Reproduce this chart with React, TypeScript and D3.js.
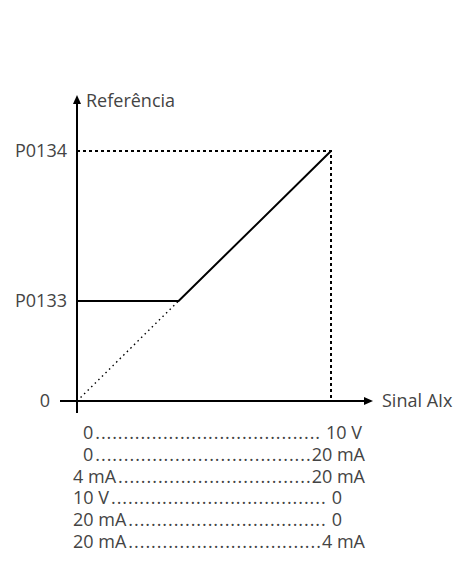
import React from "react";
import * as d3 from "d3";

const W = 458;
const H = 570;

// Data (percent of full scale)
const signalDomain = [0, 100];
const refDomain = [0, 100];
const yTickValues = [0, 40, 100];
const yTickLabels = ["0", "P0133", "P0134"];
const curveX = [0, 40, 100];
const curveY = [40, 40, 100];
const dottedX = [0, 40];
const dottedY = [0, 40];
const guideX = [0, 100, 100];
const guideY = [100, 100, 0];
const rangeLeft = ["0", "0", "4 mA", "10 V", "20 mA", "20 mA"];
const rangeRight = ["10 V", "20 mA", "20 mA", "0", "0", "4 mA"];
const yAxisTitle = "Referência";
const xAxisTitle = "Sinal AIx";

const FONT = "'Open Sans', sans-serif";
const FS = 18;

function measure(s: string): number {
  try {
    const c = document.createElement("canvas").getContext("2d");
    if (c) {
      c.font = `${FS}px ${FONT}`;
      return c.measureText(s).width;
    }
  } catch (e) {}
  return s.length * FS * 0.55;
}

export default function App() {
  const x = d3.scaleLinear().domain(signalDomain).range([77, 331]);
  const y = d3.scaleLinear().domain(refDomain).range([401, 151]);
  const line = d3
    .line<[number, number]>()
    .x((d) => x(d[0]))
    .y((d) => y(d[1]));
  const curve = curveX.map((v, i) => [v, curveY[i]] as [number, number]);
  const dotted = dottedX.map((v, i) => [v, dottedY[i]] as [number, number]);
  const guide = guideX.map((v, i) => [v, guideY[i]] as [number, number]);
  const txt = "#444";

  const x0 = x(0);
  const y0 = y(0);
  const rowY0 = 439;
  const rowStep = 21.8;
  const leftStarts = [83, 83, 73, 73, 73, 73];
  const rightEnds = [362, 365, 365, 342, 342, 365];
  const rightGaps = [6, 1, 1, 6, 6, 1];
  const dotStep = 5.6;

  return (
    <svg
      width={W}
      height={H}
      style={{ position: "absolute", left: 0, top: 0, background: "#fff" }}
      fontFamily={FONT}
    >
      {/* guides */}
      <path d={line(guide) || ""} fill="none" stroke="#000" strokeWidth={2} strokeDasharray="3,3" />
      <path d={line(dotted) || ""} fill="none" stroke="#000" strokeWidth={1.4} strokeDasharray="1.5,3.5" />
      {/* axes */}
      <line x1={x0} x2={x0} y1={413} y2={101} stroke="#000" strokeWidth={2} />
      <path d={`M${x0},95 L${x0 - 4},104 L${x0 + 4},104 Z`} fill="#000" />
      <line x1={60} x2={366} y1={y0} y2={y0} stroke="#000" strokeWidth={2} />
      <path d={`M373,${y0} L364,${y0 - 4} L364,${y0 + 4} Z`} fill="#000" />
      {/* curve */}
      <path d={line(curve) || ""} fill="none" stroke="#000" strokeWidth={2} />
      {/* y tick labels */}
      {yTickValues.map((v, i) => (
        <text
          key={i}
          x={v === 0 ? 50 : 67}
          y={y(v)}
          dy="0.36em"
          textAnchor="end"
          fontSize={FS}
          fill={txt}
        >
          {yTickLabels[i]}
        </text>
      ))}
      <text x={86} y={101} dy="0.36em" fontSize={FS} fill={txt}>
        {yAxisTitle}
      </text>
      <text x={382} y={y0} dy="0.36em" fontSize={FS} fill={txt}>
        {xAxisTitle}
      </text>
      {/* range table */}
      {rangeLeft.map((l, i) => {
        const ry = rowY0 + i * rowStep;
        const dStart = leftStarts[i] + measure(l) + 2;
        const dEnd = rightEnds[i] - measure(rangeRight[i]) - rightGaps[i];
        const len = Math.max(0, dEnd - dStart);
        const n = Math.max(1, Math.round(len / dotStep));
        return (
          <g key={i}>
            <text x={leftStarts[i]} y={ry} fontSize={FS} fill={txt}>
              {l}
            </text>
            <text
              x={dStart}
              y={ry}
              fontSize={FS}
              fill={txt}
              textLength={len}
              lengthAdjust="spacing"
            >
              {".".repeat(n)}
            </text>
            <text x={rightEnds[i]} y={ry} textAnchor="end" fontSize={FS} fill={txt}>
              {rangeRight[i]}
            </text>
          </g>
        );
      })}
    </svg>
  );
}
